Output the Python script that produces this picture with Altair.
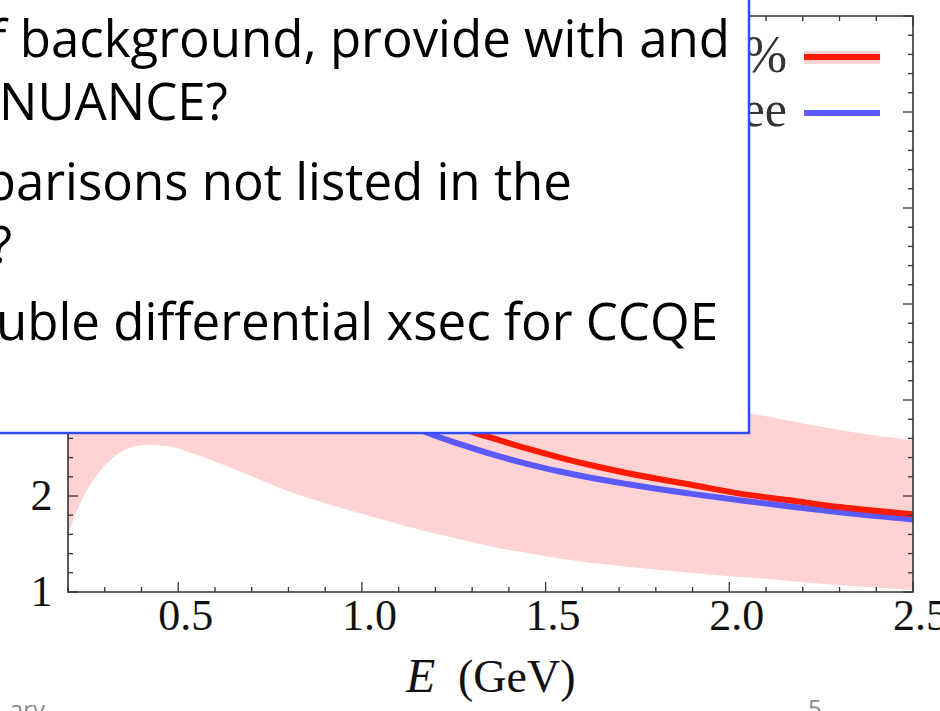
import altair as alt
import pandas as pd

# ---------------- data ----------------
band_E = [0.2, 0.233, 0.27, 0.315, 0.36, 0.415, 0.469, 0.542, 0.633, 0.723, 0.814, 0.905,
          0.995, 1.177, 1.358, 1.539, 1.702, 1.811, 2.002, 2.056, 2.21, 2.346, 2.5]
band_lo = [1.60, 1.92, 2.17, 2.375, 2.49, 2.53, 2.52, 2.44, 2.31, 2.17, 2.03, 1.92,
           1.82, 1.63, 1.47, 1.35, 1.27, 1.23, 1.165, 1.15, 1.10, 1.06, 1.02]
band_hi = [5.6, 6.0, 6.4, 6.7, 6.85, 6.9, 6.85, 6.6, 6.2, 5.8, 5.4, 5.05,
           4.75, 4.2, 3.8, 3.45, 3.2, 3.05, 2.89, 2.86, 2.75, 2.66, 2.58]

red_E = [0.2, 0.3, 0.4, 0.5, 0.6, 0.7, 0.8, 0.9, 1.0, 1.1, 1.2, 1.322, 1.358, 1.449,
         1.539, 1.630, 1.721, 1.811, 1.893, 2.029, 2.165, 2.301, 2.5]
red_v = [3.6, 4.4, 4.7, 4.6, 4.35, 4.0, 3.7, 3.42, 3.19, 2.99, 2.81, 2.64, 2.60, 2.495,
         2.40, 2.315, 2.24, 2.175, 2.12, 2.025, 1.955, 1.885, 1.81]

blue_E = [0.2, 0.3, 0.4, 0.5, 0.6, 0.7, 0.8, 0.9, 1.0, 1.1, 1.19, 1.267, 1.358, 1.449,
          1.539, 1.630, 1.721, 1.811, 1.893, 2.029, 2.165, 2.301, 2.5]
blue_v = [3.4, 4.1, 4.35, 4.25, 4.0, 3.7, 3.42, 3.18, 2.97, 2.79, 2.64, 2.54, 2.43, 2.335,
          2.255, 2.185, 2.125, 2.07, 2.025, 1.955, 1.89, 1.83, 1.755]

x_major = [0.5, 1.0, 1.5, 2.0, 2.5]
x_minor = [0.2, 0.3, 0.4, 0.6, 0.7, 0.8, 0.9, 1.1, 1.2, 1.3, 1.4, 1.6, 1.7, 1.8, 1.9,
           2.1, 2.2, 2.3, 2.4]
y_major = [1, 2, 3, 4, 5, 6, 7]
y_minor = [1.2, 1.4, 1.6, 1.8, 2.2, 2.4, 2.6, 2.8, 3.2, 3.4, 3.6, 3.8, 4.2, 4.4, 4.6,
           4.8, 5.2, 5.4, 5.6, 5.8, 6.2, 6.4, 6.6, 6.8]

legend_labels = ["%", "ee"]
box_lines = ["of background, provide with and", "NUANCE?", "comparisons not listed in the",
             "?", "double differential xsec for CCQE"]
x_title_parts = ["E", "(GeV)"]
footer_texts = ["ary", "5"]

# ---------------- layout ----------------
W, H = 845, 576
AX = "#333333"
RED = "#ff1a00"
BLUE = "#5a5aff"
PINK = "#ffd3d3"
BOXBLUE = "#2f4cf5"

xs = alt.Scale(domain=[0.2, 2.5], nice=False, zero=False)
ys = alt.Scale(domain=[1, 7], nice=False, zero=False)

x_axis = alt.Axis(values=x_major, format=".1f", labelFont="Liberation Serif", labelFontSize=44,
                  labelColor="#111111", ticks=False, domain=False, grid=False, title=None,
                  labelPadding=2, labelOffset=7, labelFlush=False, labelOverlap=False,
                  labelBound=False, zindex=0)
y_axis = alt.Axis(values=y_major, format="d", labelFont="Liberation Serif", labelFontSize=44,
                  labelColor="#111111", ticks=False, domain=False, grid=False, title=None,
                  labelPadding=16, labelOverlap=False, zindex=0)

band_df = pd.DataFrame({"E": band_E, "lo": band_lo, "hi": band_hi})
red_df = pd.DataFrame({"E": red_E, "v": red_v})
blue_df = pd.DataFrame({"E": blue_E, "v": blue_v})
one = pd.DataFrame({"k": [0]})

band = alt.Chart(band_df).mark_area(color=PINK, interpolate="monotone").encode(
    x=alt.X("E:Q", scale=xs, axis=x_axis),
    y=alt.Y("lo:Q", scale=ys, axis=y_axis),
    y2="hi:Q",
)

blue_line = alt.Chart(blue_df).mark_line(color=BLUE, strokeWidth=6, interpolate="monotone").encode(
    x=alt.X("E:Q", scale=xs), y=alt.Y("v:Q", scale=ys))
red_line = alt.Chart(red_df).mark_line(color=RED, strokeWidth=6, interpolate="monotone").encode(
    x=alt.X("E:Q", scale=xs), y=alt.Y("v:Q", scale=ys))

xmaj_df = pd.DataFrame({"E": x_major})
xmin_df = pd.DataFrame({"E": x_minor})
ymaj_df = pd.DataFrame({"v": y_major})
ymin_df = pd.DataFrame({"v": y_minor})


def xticks(df, y0, y1):
    return alt.Chart(df).mark_rule(color=AX, strokeWidth=1.3).encode(
        x=alt.X("E:Q", scale=xs), y=alt.value(y0), y2=alt.value(y1))


def yticks(df, x0, x1):
    return alt.Chart(df).mark_rule(color=AX, strokeWidth=1.3).encode(
        y=alt.Y("v:Q", scale=ys), x=alt.value(x0), x2=alt.value(x1))


ticks = [
    xticks(xmaj_df, H, H - 10), xticks(xmin_df, H, H - 5),
    xticks(xmaj_df, 0, 10), xticks(xmin_df, 0, 5),
    yticks(ymaj_df, 0, 10), yticks(ymin_df, 0, 5),
    yticks(ymaj_df, W, W - 10), yticks(ymin_df, W, W - 5),
]

frame = alt.Chart(one).mark_rect(fillOpacity=0, stroke=AX, strokeWidth=1.6).encode(
    x=alt.value(0), x2=alt.value(W), y=alt.value(0), y2=alt.value(H))

# legend
leg_band = alt.Chart(one).mark_rect(color=PINK).encode(
    x=alt.value(736), x2=alt.value(812), y=alt.value(35), y2=alt.value(48))
leg_red = alt.Chart(one).mark_rule(color=RED, strokeWidth=6).encode(
    x=alt.value(736), x2=alt.value(812), y=alt.value(41))
leg_blue = alt.Chart(one).mark_rule(color=BLUE, strokeWidth=6).encode(
    x=alt.value(736), x2=alt.value(812), y=alt.value(97))
leg_t1 = alt.Chart(one).mark_text(text=legend_labels[0], font="Liberation Serif", fontSize=52,
                                  align="right", baseline="alphabetic", color="#333333").encode(
    x=alt.value(719), y=alt.value(56))
leg_t2 = alt.Chart(one).mark_text(text=legend_labels[1], font="Liberation Serif", fontSize=50,
                                  align="right", baseline="alphabetic", color="#333333").encode(
    x=alt.value(719), y=alt.value(110))

# x-axis title
xt1 = alt.Chart(one).mark_text(text=x_title_parts[0], font="Liberation Serif", fontSize=48,
                               fontStyle="italic", align="left", baseline="alphabetic",
                               color="#111111").encode(x=alt.value(338), y=alt.value(676))
xt2 = alt.Chart(one).mark_text(text=x_title_parts[1], font="Liberation Serif", fontSize=46,
                               align="left", baseline="alphabetic",
                               color="#111111").encode(x=alt.value(390), y=alt.value(676))

# overlaying slide text box
box = alt.Chart(one).mark_rect(fill="white", stroke=BOXBLUE, strokeWidth=2.5).encode(
    x=alt.value(-120), x2=alt.value(681), y=alt.value(-120), y2=alt.value(417))

TF = "Open Sans"
TS = 51


def line(txt, x, y, align):
    return alt.Chart(one).mark_text(text=txt, font=TF, fontSize=TS, align=align,
                                    baseline="alphabetic", color="black").encode(
        x=alt.value(x), y=alt.value(y))


lines = [
    line(box_lines[0], 662, 41, "right"),
    line(box_lines[1], -69, 104, "left"),
    line(box_lines[2], 504, 184, "right"),
    line(box_lines[3], -56, 247, "right"),
    line(box_lines[4], 650, 324, "right"),
]

foot1 = alt.Chart(one).mark_text(text=footer_texts[0], font=TF, fontSize=24, align="right",
                                 baseline="alphabetic", color="#8c8c8c").encode(
    x=alt.value(-23), y=alt.value(702))
foot2 = alt.Chart(one).mark_text(text=footer_texts[1], font=TF, fontSize=24, align="left",
                                 baseline="alphabetic", color="#8c8c8c").encode(
    x=alt.value(740), y=alt.value(701))

chart = alt.layer(
    band, blue_line, red_line, *ticks, frame,
    leg_band, leg_red, leg_blue, leg_t1, leg_t2,
    xt1, xt2, box, *lines, foot1, foot2,
).properties(
    width=W, height=H,
    autosize=alt.AutoSizeParams(type="none"),
    padding={"left": 68, "top": 16, "right": 27, "bottom": 119},
    background="white",
).configure_view(stroke=None)

chart.save("out.html", embed_options={"renderer": "svg", "actions": False})
